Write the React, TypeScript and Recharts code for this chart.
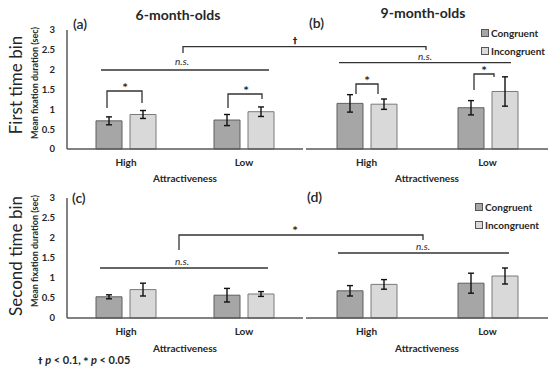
import { BarChart, Bar, XAxis, YAxis, ErrorBar, Legend } from 'recharts'

const FONT = 'Lato, "Open Sans", sans-serif'
const SYM = '"DejaVu Sans", "Liberation Sans", sans-serif'
const INK = '#262626'
const AXIS = '#595959'

const categories = ['High', 'Low']
const yTicks = [0, 0.5, 1, 1.5, 2, 2.5, 3]

// first time bin
const first6Congruent = [0.71, 0.73]
const first6CongruentErr = [0.1, 0.14]
const first6Incongruent = [0.87, 0.94]
const first6IncongruentErr = [0.1, 0.12]
const first9Congruent = [1.15, 1.04]
const first9CongruentErr = [0.22, 0.18]
const first9Incongruent = [1.13, 1.45]
const first9IncongruentErr = [0.13, 0.37]

// second time bin
const second6Congruent = [0.53, 0.57]
const second6CongruentErr = [0.05, 0.17]
const second6Incongruent = [0.71, 0.6]
const second6IncongruentErr = [0.16, 0.06]
const second9Congruent = [0.68, 0.87]
const second9CongruentErr = [0.13, 0.25]
const second9Incongruent = [0.84, 1.05]
const second9IncongruentErr = [0.12, 0.2]

const makeRows = (c: number[], cErr: number[], i: number[], iErr: number[]) =>
  categories.map((name, k) => ({
    name,
    congruent: c[k],
    congruentErr: cErr[k],
    incongruent: i[k],
    incongruentErr: iErr[k]
  }))

const renderLegend = (props: any) => (
  <div style={{ fontFamily: FONT, fontWeight: 700, fontSize: 10, color: INK }}>
    {(props.payload || []).map((p: any) => (
      <div key={p.value} style={{ display: 'flex', alignItems: 'center', height: 18 }}>
        <span
          style={{ width: 6, height: 6, background: p.color, border: '1px solid #555', marginRight: 2 }}
        />
        {p.value}
      </div>
    ))}
  </div>
)

interface PanelProps {
  rows: ReturnType<typeof makeRows>
  left: number
  top: number
  width: number
  plotTop: number
  plotHeight: number
  xAxisHeight: number
  labelOffset: number
  showY?: boolean
  legendTop?: number
  legendLeft?: number
}

const Panel = ({ rows, left, top, width, plotTop, plotHeight, xAxisHeight, labelOffset, showY, legendTop, legendLeft }: PanelProps) => (
  <div style={{ position: 'absolute', left, top }}>
    <BarChart
      width={width}
      height={plotTop + plotHeight + xAxisHeight}
      data={rows}
      margin={{ top: plotTop, right: 2, left: showY ? 0 : 6, bottom: 0 }}
      barSize={26}
      barGap={8}
    >
      <XAxis
        dataKey="name"
        height={xAxisHeight}
        axisLine={{ stroke: AXIS, strokeWidth: 1.5 }}
        tickLine={false}
        tickMargin={4}
        tick={{ fill: INK, fontSize: 10, fontWeight: 700, fontFamily: FONT }}
        label={{
          value: 'Attractiveness',
          position: 'insideBottom',
          offset: labelOffset,
          fill: INK,
          fontSize: 10,
          fontWeight: 700,
          fontFamily: FONT
        }}
      />
      <YAxis
        hide={!showY}
        domain={[0, 3]}
        ticks={yTicks}
        width={67}
        axisLine={{ stroke: AXIS, strokeWidth: 1.5 }}
        tickLine={false}
        tickSize={6}
        tickMargin={6}
        tick={{ fill: INK, fontSize: 9.5, fontWeight: 700, fontFamily: FONT }}
      />
      {legendTop !== undefined && (
        <Legend
          layout="vertical"
          align="center"
          verticalAlign="middle"
          content={renderLegend}
          wrapperStyle={{ top: legendTop, left: legendLeft, width: 80 }}
        />
      )}
      <Bar dataKey="congruent" name="Congruent" fill="#a6a6a6" stroke="#5f5f5f" strokeWidth={1} isAnimationActive={false}>
        <ErrorBar dataKey="congruentErr" width={3} stroke="#111" strokeWidth={1.4} />
      </Bar>
      <Bar dataKey="incongruent" name="Incongruent" fill="#d9d9d9" stroke="#7a7a7a" strokeWidth={1} isAnimationActive={false}>
        <ErrorBar dataKey="incongruentErr" width={3} stroke="#111" strokeWidth={1.4} />
      </Bar>
    </BarChart>
  </div>
)

const line = { stroke: '#333', strokeWidth: 1.3, fill: 'none' }
const star = { fontFamily: SYM, fontSize: 9, fontWeight: 700, fill: INK }
const ns = { fontFamily: FONT, fontSize: 10, fill: INK, fontStyle: 'italic' as const }
const panelTag = { fontFamily: FONT, fontSize: 14, fontWeight: 600, fill: INK }

const Annotations = () => (
  <svg width={550} height={371} style={{ position: 'absolute', left: 0, top: 0, pointerEvents: 'none' }}>
    <text x={178} y={20} textAnchor="middle" style={{ fontFamily: FONT, fontSize: 14, fontWeight: 700, fill: INK }}>6-month-olds</text>
    <text x={423} y={18} textAnchor="middle" style={{ fontFamily: FONT, fontSize: 14, fontWeight: 700, fill: INK }}>9-month-olds</text>
    <text x={73} y={29} style={panelTag}>(a)</text>
    <text x={309} y={28} style={panelTag}>(b)</text>
    <text x={72} y={203} style={panelTag}>(c)</text>
    <text x={307} y={202} style={panelTag}>(d)</text>

    <text transform="translate(22,85) rotate(-90)" textAnchor="middle" style={{ fontFamily: FONT, fontSize: 17, fill: INK }}>First time bin</text>
    <text transform="translate(22,256) rotate(-90)" textAnchor="middle" style={{ fontFamily: FONT, fontSize: 17, fill: INK }}>Second time bin</text>
    <text transform="translate(38,83) rotate(-90)" textAnchor="middle" style={{ fontFamily: FONT, fontSize: 9, fontWeight: 700, fill: INK }}>Mean fixation duration (sec)</text>
    <text transform="translate(38,251) rotate(-90)" textAnchor="middle" style={{ fontFamily: FONT, fontSize: 9, fontWeight: 700, fill: INK }}>Mean fixation duration (sec)</text>

    {/* top row */}
    <path d="M183,53 V46.7 H426 V50" style={line} />
    <text x={295} y={44} textAnchor="middle" style={star}>†</text>
    <path d="M101,70 H269" style={line} />
    <text x={182} y={65} textAnchor="middle" style={ns}>n.s.</text>
    <path d="M107,108 V91 H142 V103" style={line} />
    <text x={125} y={90} textAnchor="middle" style={star}>*</text>
    <path d="M228,108 V94 H262 V99" style={line} />
    <text x={246} y={93} textAnchor="middle" style={star}>*</text>
    <path d="M339,62.7 H511" style={line} />
    <text x={425} y={60} textAnchor="middle" style={ns}>n.s.</text>
    <path d="M356,94 V84 H378 V94" style={line} />
    <text x={367} y={83} textAnchor="middle" style={star}>*</text>
    <path d="M474,90 V74 H494 V77" style={line} />
    <text x={484} y={73} textAnchor="middle" style={star}>*</text>

    {/* bottom row */}
    <path d="M179,250 V235 H423 V240" style={line} />
    <text x={295} y={233} textAnchor="middle" style={star}>*</text>
    <path d="M100,268 H268" style={line} />
    <text x={182} y={265} textAnchor="middle" style={ns}>n.s.</text>
    <path d="M338,253 H509" style={line} />
    <text x={423} y={250} textAnchor="middle" style={ns}>n.s.</text>

    <text x={38} y={364} style={{ fontFamily: FONT, fontSize: 11, fontWeight: 700, fill: INK }}>
      <tspan fontFamily={SYM} fontSize={9}>†</tspan> <tspan fontStyle="italic">p</tspan> &lt; 0.1,{' '}
      <tspan fontFamily={SYM} fontSize={9}>*</tspan> <tspan fontStyle="italic">p</tspan> &lt; 0.05
    </text>
  </svg>
)

export default function App() {
  return (
    <div style={{ position: 'absolute', left: 0, top: 0, width: 550, height: 371, background: '#fff', overflow: 'hidden' }}>
      <Panel
        rows={makeRows(first6Congruent, first6CongruentErr, first6Incongruent, first6IncongruentErr)}
        left={0} top={0} width={305} plotTop={30} plotHeight={119} xAxisHeight={41} labelOffset={8} showY
      />
      <Panel
        rows={makeRows(first9Congruent, first9CongruentErr, first9Incongruent, first9IncongruentErr)}
        left={300} top={0} width={250} plotTop={30} plotHeight={119} xAxisHeight={41} labelOffset={8}
        legendTop={24} legendLeft={181}
      />
      <Panel
        rows={makeRows(second6Congruent, second6CongruentErr, second6Incongruent, second6IncongruentErr)}
        left={0} top={168} width={305} plotTop={30} plotHeight={120} xAxisHeight={40} labelOffset={6} showY
      />
      <Panel
        rows={makeRows(second9Congruent, second9CongruentErr, second9Incongruent, second9IncongruentErr)}
        left={300} top={168} width={250} plotTop={30} plotHeight={120} xAxisHeight={40} labelOffset={6}
        legendTop={30} legendLeft={175}
      />
      <Annotations />
    </div>
  )
}
